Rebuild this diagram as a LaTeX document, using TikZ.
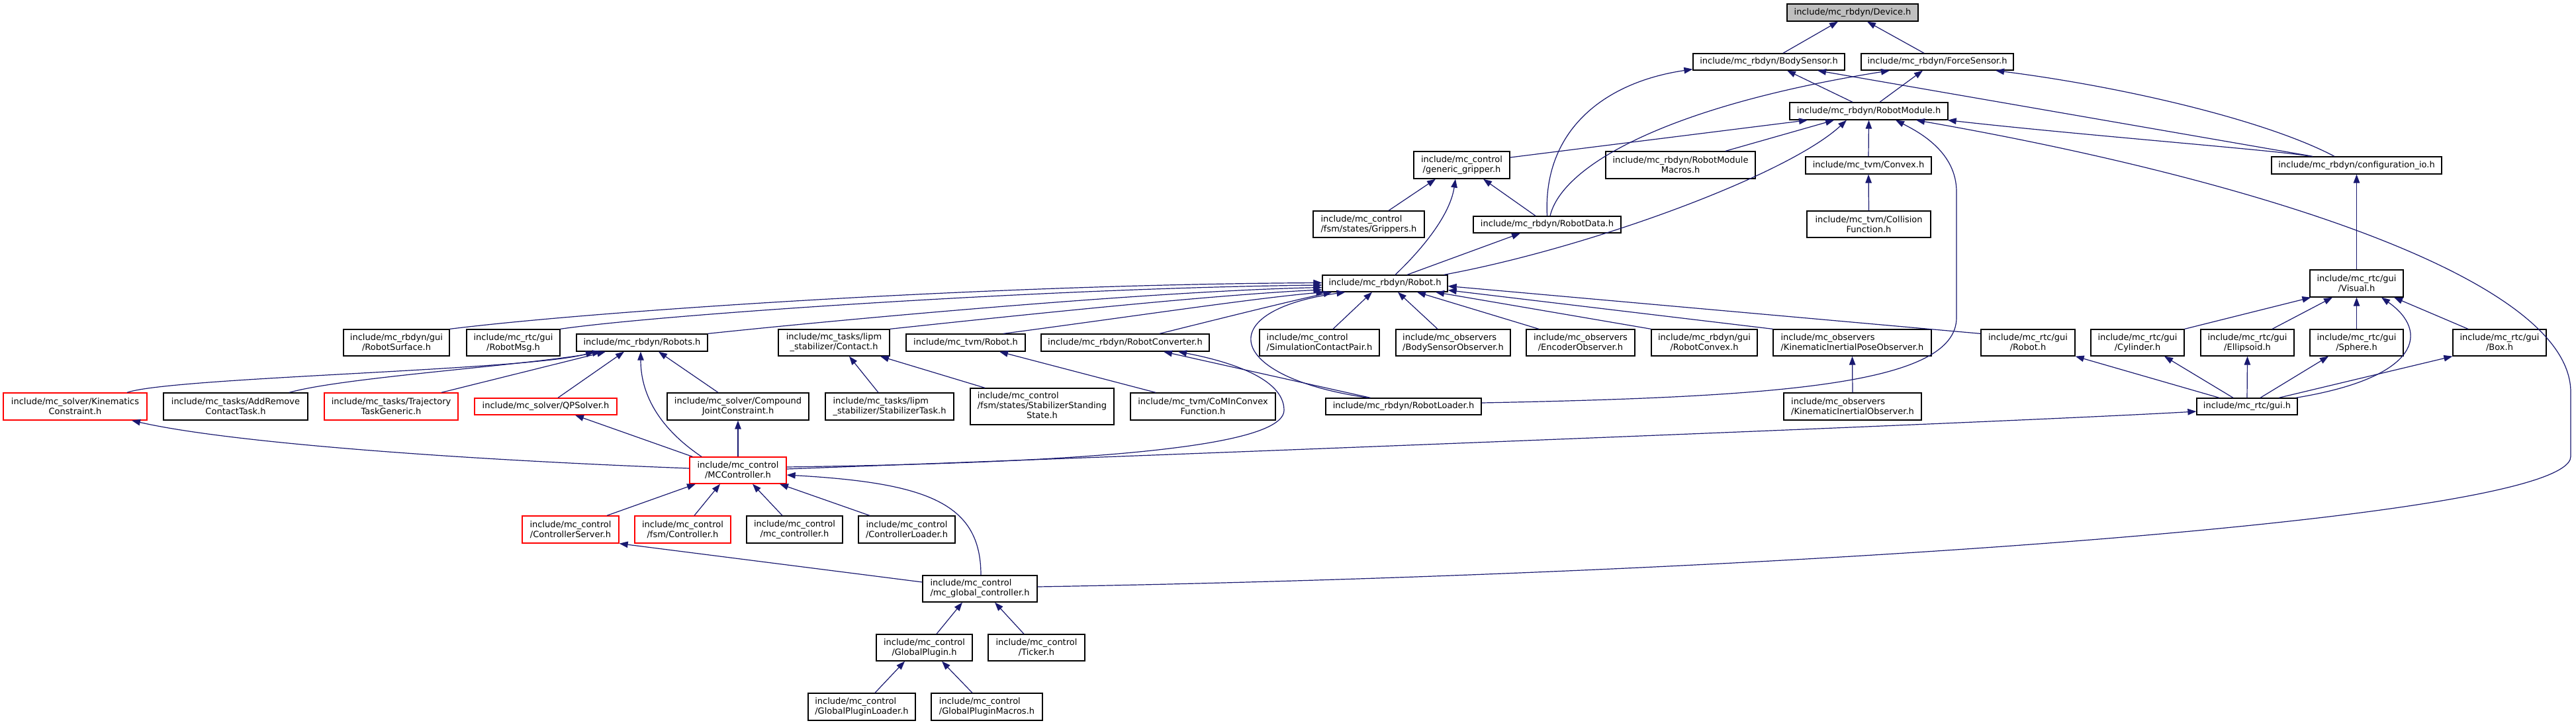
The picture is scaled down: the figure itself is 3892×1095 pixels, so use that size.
\documentclass[tikz,border=0pt]{standalone}
\usepackage{fontspec}
\setmainfont{DejaVu Sans}
\usetikzlibrary{arrows.meta}
\definecolor{edgeblue}{HTML}{191970}
\definecolor{devgray}{HTML}{BFBFBF}
\begin{document}
\begin{tikzpicture}[x=1pt,y=-1pt,
  nbox/.style={draw=black, fill=white, line width=1.3pt, inner sep=0pt, font=\fontsize{13}{15}\selectfont, align=center},
  lbox/.style={nbox, align=left},
  rbox/.style={nbox, draw=red},
  wh/.style 2 args={minimum width=#1pt, minimum height=#2pt},
  edge/.style={draw=edgeblue, line width=1.2pt, -{Triangle[length=13pt,width=9.5pt]}}]
\fill[white] (0,0) rectangle (3892,1095);
\useasboundingbox (0,0) rectangle (3892,1095);
% nodes
\node[nbox, wh={198}{26}, fill=devgray] (device) at (2799,19) {include/mc\_rbdyn/Device.h};
\node[nbox, wh={229}{25}] (bodysensor) at (2672.5,93.5) {include/mc\_rbdyn/BodySensor.h};
\node[nbox, wh={230}{25}] (forcesensor) at (2927,93.5) {include/mc\_rbdyn/ForceSensor.h};
\node[nbox, wh={239}{26}] (robotmodule) at (2823.5,168) {include/mc\_rbdyn/RobotModule.h};
\node[nbox, wh={145}{41}] (gripper) at (2208.5,249.5) {include/mc\_control\\/generic\_gripper.h};
\node[nbox, wh={226}{41}] (macros) at (2539,249.5) {include/mc\_rbdyn/RobotModule\\Macros.h};
\node[nbox, wh={190}{26}] (convex) at (2823,250) {include/mc\_tvm/Convex.h};
\node[nbox, wh={257}{26}] (configio) at (3560.5,250) {include/mc\_rbdyn/configuration\_io.h};
\node[lbox, wh={168}{40}] (grippers) at (2068,339) {include/mc\_control\\/fsm/states/Grippers.h};
\node[nbox, wh={223}{25}] (robotdata) at (2337.5,339.5) {include/mc\_rbdyn/RobotData.h};
\node[nbox, wh={187}{40}] (collision) at (2823.5,339) {include/mc\_tvm/Collision\\Function.h};
\node[nbox, wh={189}{25}] (robot) at (2092.5,428.5) {include/mc\_rbdyn/Robot.h};
\node[nbox, wh={141}{41}] (visual) at (3560.5,428.5) {include/mc\_rtc/gui\\/Visual.h};
\node[nbox, wh={160}{40}] (robotsurface) at (599,518) {include/mc\_rbdyn/gui\\/RobotSurface.h};
\node[nbox, wh={141}{40}] (robotmsg) at (775.5,518) {include/mc\_rtc/gui\\/RobotMsg.h};
\node[nbox, wh={198}{26}] (robots) at (970,518) {include/mc\_rbdyn/Robots.h};
\node[nbox, wh={168}{40}] (contact) at (1260,518) {include/mc\_tasks/lipm\\\_stabilizer/Contact.h};
\node[nbox, wh={180}{26}] (tvmrobot) at (1459,518) {include/mc\_tvm/Robot.h};
\node[nbox, wh={254}{26}] (converter) at (1700,518) {include/mc\_rbdyn/RobotConverter.h};
\node[lbox, wh={181}{40}] (simcontact) at (1993.5,518) {include/mc\_control\\/SimulationContactPair.h};
\node[lbox, wh={173}{40}] (bsobs) at (2195.5,518) {include/mc\_observers\\/BodySensorObserver.h};
\node[nbox, wh={164}{40}] (encobs) at (2388,518) {include/mc\_observers\\/EncoderObserver.h};
\node[nbox, wh={160}{40}] (robotconvex) at (2575,518) {include/mc\_rbdyn/gui\\/RobotConvex.h};
\node[lbox, wh={239}{40}] (kipobs) at (2798.5,518) {include/mc\_observers\\/KinematicInertialPoseObserver.h};
\node[nbox, wh={142}{40}] (guirobot) at (3064,518) {include/mc\_rtc/gui\\/Robot.h};
\node[nbox, wh={141}{40}] (cylinder) at (3229.5,518) {include/mc\_rtc/gui\\/Cylinder.h};
\node[nbox, wh={141}{40}] (ellipsoid) at (3395.5,518) {include/mc\_rtc/gui\\/Ellipsoid.h};
\node[nbox, wh={141}{40}] (sphere) at (3560.5,518) {include/mc\_rtc/gui\\/Sphere.h};
\node[nbox, wh={141}{40}] (box) at (3776.5,518) {include/mc\_rtc/gui\\/Box.h};
\node[rbox, wh={217}{41}] (kinconstr) at (113.5,614.5) {include/mc\_solver/Kinematics\\Constraint.h};
\node[nbox, wh={218}{41}] (addremove) at (356,614.5) {include/mc\_tasks/AddRemove\\ContactTask.h};
\node[rbox, wh={202}{41}] (trajectory) at (591,614.5) {include/mc\_tasks/Trajectory\\TaskGeneric.h};
\node[rbox, wh={215}{25}] (qpsolver) at (824.5,614.5) {include/mc\_solver/QPSolver.h};
\node[nbox, wh={214}{41}] (compound) at (1115,614.5) {include/mc\_solver/Compound\\JointConstraint.h};
\node[lbox, wh={194}{41}] (stabtask) at (1344,614.5) {include/mc\_tasks/lipm\\\_stabilizer/StabilizerTask.h};
\node[nbox, wh={217}{55}] (standing) at (1574.5,614.5) {\begin{tabular}{@{}l@{}}include/mc\_control\\/fsm/states/StabilizerStanding\\\multicolumn{1}{@{}c@{}}{State.h}\end{tabular}};
\node[nbox, wh={219}{41}] (cominconvex) at (1817.5,614.5) {include/mc\_tvm/CoMInConvex\\Function.h};
\node[nbox, wh={235}{25}] (robotloader) at (2120.5,614.5) {include/mc\_rbdyn/RobotLoader.h};
\node[lbox, wh={208}{41}] (kiobs) at (2799,614.5) {include/mc\_observers\\/KinematicInertialObserver.h};
\node[nbox, wh={152}{25}] (gui) at (3395,614.5) {include/mc\_rtc/gui.h};
\node[rbox, wh={146}{40}] (mccontroller) at (1115,711) {include/mc\_control\\/MCController.h};
\node[rbox, wh={146}{41}] (ctrlserver) at (862,800.5) {include/mc\_control\\/ControllerServer.h};
\node[rbox, wh={145}{41}] (fsmcontroller) at (1031.5,800.5) {include/mc\_control\\/fsm/Controller.h};
\node[nbox, wh={145}{41}] (mccontrollerh) at (1200.5,800.5) {include/mc\_control\\/mc\_controller.h};
\node[nbox, wh={146}{41}] (ctrlloader) at (1370,800.5) {include/mc\_control\\/ControllerLoader.h};
\node[lbox, wh={173}{40}] (globalctrl) at (1480.5,890) {include/mc\_control\\/mc\_global\_controller.h};
\node[nbox, wh={145}{40}] (globalplugin) at (1396.5,979) {include/mc\_control\\/GlobalPlugin.h};
\node[nbox, wh={146}{40}] (ticker) at (1566,979) {include/mc\_control\\/Ticker.h};
\node[lbox, wh={162}{41}] (gploader) at (1302,1068.5) {include/mc\_control\\/GlobalPluginLoader.h};
\node[lbox, wh={168}{41}] (gpmacros) at (1491,1068.5) {include/mc\_control\\/GlobalPluginMacros.h};
% edges
\draw[edge] ([xshift=21.5pt]bodysensor.north) -- ([xshift=-22pt]device.south);
\draw[edge] ([xshift=-20pt]forcesensor.north) -- ([xshift=22pt]device.south);
\draw[edge] ([xshift=-24.5pt]robotmodule.north) -- ([xshift=27.5pt]bodysensor.south);
\draw[edge] ([xshift=16.5pt]robotmodule.north) -- ([xshift=-22pt]forcesensor.south);
\draw[edge] (robotdata.north) .. controls (2331,200) and (2420,125) .. ([yshift=2pt]bodysensor.south west);
\draw[edge] ([xshift=4.5pt]robotdata.north) .. controls (2360,250) and (2520,160) .. ([xshift=-72pt]forcesensor.south);
\draw[edge] ([xshift=-66.5pt]configio.north) -- ([xshift=73.5pt]bodysensor.south);
\draw[edge] ([xshift=-33.5pt]configio.north) .. controls (3420,180) and (3200,130) .. ([xshift=88pt]forcesensor.south);
\draw[edge] ([yshift=11.5pt]gripper.east) -- ([xshift=-92.5pt]robotmodule.south);
\draw[edge] ([xshift=68pt]macros.north) -- ([xshift=-52.5pt]robotmodule.south);
\draw[edge] ([xshift=-6pt]robot.north east) .. controls (2400,375) and (2700,265) .. ([xshift=-33.5pt]robotmodule.south);
\draw[edge] (convex.north) -- (robotmodule.south);
\draw[edge] ([yshift=5.5pt]robotloader.east) .. controls (2700,600) and (2956,580) .. (2956,480) -- (2956,290) .. controls (2956,230) and (2900,200) .. ([xshift=40.5pt]robotmodule.south);
\draw[edge] ([xshift=-70pt]configio.north) .. controls (3450,228) and (3150,205) .. ([xshift=-1pt]robotmodule.south east);
\draw[edge] ([yshift=3pt]globalctrl.east) .. controls (2600,870) and (3884,790) .. (3884,690) -- (3884,593) .. controls (3884,420) and (3400,270) .. ([xshift=71.5pt]robotmodule.south);
\draw[edge] ([xshift=30pt]grippers.north) -- ([xshift=-39.5pt]gripper.south);
\draw[edge] ([xshift=15.5pt]robot.north) .. controls (2140,385) and (2190,330) .. ([xshift=-9.5pt]gripper.south);
\draw[edge] ([xshift=-17.5pt]robotdata.north) -- ([xshift=32.5pt]gripper.south);
\draw[edge] ([xshift=33.5pt]robot.north) -- ([xshift=-40.5pt]robotdata.south);
\draw[edge] (collision.north) -- (convex.south);
\draw[edge] (visual.north) -- (configio.south);
% into Robot.h
\draw[edge] (robotsurface.north east) .. controls (900,470) and (1500,430) .. ([yshift=1pt]robot.west);
\draw[edge] (robotmsg.north east) .. controls (1000,475) and (1600,435) .. ([yshift=-2.5pt]robot.west);
\draw[edge] (robots.north east) .. controls (1300,480) and (1750,440) .. ([yshift=-6pt]robot.west);
\draw[edge] (contact.north east) .. controls (1600,470) and (1850,445) .. ([yshift=-9.5pt]robot.west);
\draw[edge] ([xshift=57pt]tvmrobot.north) .. controls (1700,480) and (1900,450) .. ([xshift=4pt]robot.south west);
\draw[edge] ([xshift=52pt]converter.north) .. controls (1850,480) and (1950,455) .. ([xshift=-80pt]robot.south);
\draw[edge] ([xshift=-53.5pt]robotloader.north) .. controls (1850,570) and (1830,470) .. ([xshift=-60pt]robot.south);
\draw[edge] ([xshift=20.5pt]simcontact.north) -- ([xshift=-19.5pt]robot.south);
\draw[edge] ([xshift=-23.5pt]bsobs.north) -- ([xshift=19.5pt]robot.south);
\draw[edge] ([xshift=-63pt]encobs.north) -- ([xshift=48.5pt]robot.south);
\draw[edge] (robotconvex.north west) -- ([xshift=76.5pt]robot.south);
\draw[edge] (kipobs.north west) -- ([yshift=3pt]robot.south east);
\draw[edge] ([yshift=-7pt]guirobot.north west) -- ([yshift=-4pt]robot.east);
% into Robots.h
\draw[edge] ([xshift=78.5pt]kinconstr.north) .. controls (260,570) and (800,560) .. ([xshift=-72pt]robots.south);
\draw[edge] ([xshift=81pt]addremove.north) .. controls (520,570) and (800,552) .. ([xshift=-62pt]robots.south);
\draw[edge] ([xshift=76pt]trajectory.north) -- ([xshift=-55pt]robots.south);
\draw[edge] ([xshift=18.5pt]qpsolver.north) -- ([xshift=-27pt]robots.south);
\draw[edge] ([xshift=-30pt]compound.north) -- ([xshift=25pt]robots.south);
\draw[edge] ([xshift=-55pt]mccontroller.north) .. controls (1000,650) and (968,600) .. ([xshift=-2pt]robots.south);
% others
\draw[edge] ([xshift=-17pt]stabtask.north) -- ([xshift=23pt]contact.south);
\draw[edge] ([xshift=-86.5pt]standing.north) -- ([xshift=70pt]contact.south);
\draw[edge] ([xshift=-71.5pt]cominconvex.north) -- ([xshift=51pt]tvmrobot.south);
\draw[edge] ([xshift=-50pt]robotloader.north) -- ([xshift=58pt]converter.south);
\draw[edge] ([yshift=5pt]mccontroller.east) .. controls (1600,700) and (1940,680) .. (1940,620) .. controls (1940,570) and (1850,545) .. ([xshift=80pt]converter.south);
\draw[edge] ([yshift=2pt]mccontroller.east) .. controls (1700,690) and (3000,640) .. ([yshift=-7.5pt]gui.west);
\draw[edge] ([yshift=3pt]mccontroller.west) .. controls (700,695) and (350,670) .. ([xshift=85.5pt]kinconstr.south);
\draw[edge] ([xshift=5pt]mccontroller.north west) -- ([xshift=44.5pt]qpsolver.south);
\draw[edge] (mccontroller.north) -- (compound.south);
\draw[edge] ([xshift=55pt]ctrlserver.north) -- ([xshift=-64pt]mccontroller.south);
\draw[edge] ([xshift=17.5pt]fsmcontroller.north) -- ([xshift=-27pt]mccontroller.south);
\draw[edge] ([xshift=-18.5pt]mccontrollerh.north) -- ([xshift=22pt]mccontroller.south);
\draw[edge] ([xshift=-56pt]ctrlloader.north) -- ([xshift=63pt]mccontroller.south);
\draw[edge] ([xshift=1.5pt]globalctrl.north) .. controls (1482,760) and (1400,730) .. ([yshift=-7pt]mccontroller.east);
\draw[edge] ([yshift=10pt]globalctrl.west) -- (ctrlserver.south east);
\draw[edge] ([xshift=18.5pt]globalplugin.north) -- ([xshift=-26.5pt]globalctrl.south);
\draw[edge] ([xshift=-19pt]ticker.north) -- ([xshift=22.5pt]globalctrl.south);
\draw[edge] ([xshift=20pt]gploader.north) -- ([xshift=-29.5pt]globalplugin.south);
\draw[edge] ([xshift=-22pt]gpmacros.north) -- ([xshift=26.5pt]globalplugin.south);
\draw[edge] (kiobs.north) -- (kipobs.south);
% gui
\draw[edge] (cylinder.north east) -- ([xshift=2pt]visual.south west);
\draw[edge] ([xshift=37.5pt]ellipsoid.north) -- ([xshift=-36.5pt]visual.south);
\draw[edge] (sphere.north) -- (visual.south);
\draw[edge] ([xshift=-3pt]gui.north east) .. controls (3660,570) and (3670,500) .. ([xshift=37.5pt]visual.south);
\draw[edge] ([xshift=-47.5pt]box.north) -- ([xshift=56.5pt]visual.south);
\draw[edge] ([xshift=-42pt]gui.north) -- (guirobot.south east);
\draw[edge] ([xshift=-21pt]gui.north) -- ([xshift=40.5pt]cylinder.south);
\draw[edge] (gui.north) -- (ellipsoid.south);
\draw[edge] ([xshift=20pt]gui.north) -- ([xshift=-42.5pt]sphere.south);
\draw[edge] ([xshift=48pt]gui.north) -- (box.south west);
\end{tikzpicture}
\end{document}
